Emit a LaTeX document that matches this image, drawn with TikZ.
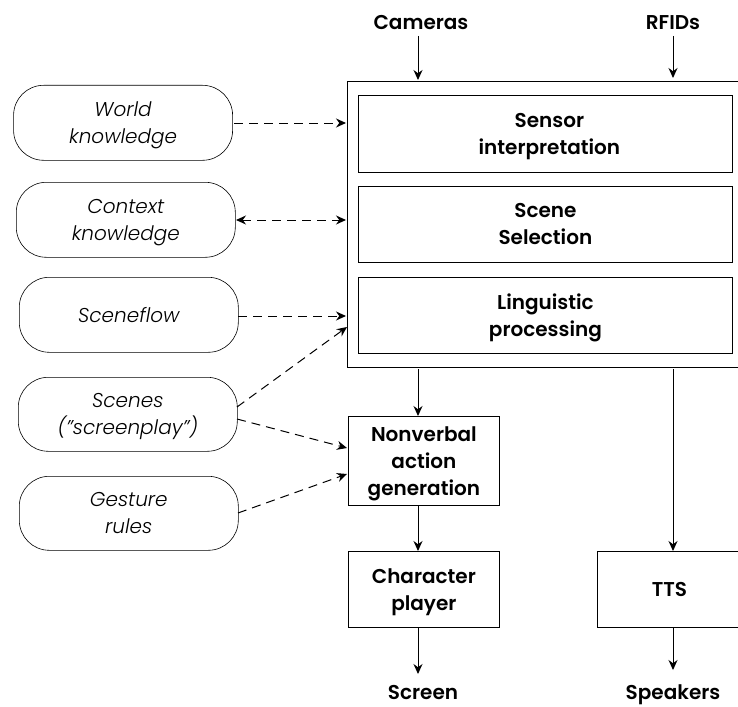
\documentclass[tikz,border=0pt]{standalone}
\usepackage{fontspec}
\setmainfont{Poppins}[BoldFont={Poppins SemiBold},ItalicFont={Poppins Light Italic}]
\usetikzlibrary{arrows.meta}
\tikzset{
 x=1pt,y=-1pt,
 box/.style={draw,line width=0.8pt,rectangle,anchor=north west,inner sep=0pt,align=center,text depth=0pt,font=\fontsize{20}{27}\selectfont\bfseries},
 know/.style={draw,line width=0.6pt,rectangle,rounded corners=30pt,anchor=north west,inner sep=0pt,align=center,text depth=0pt,font=\fontsize{20}{27}\selectfont\itshape},
 lab/.style={inner sep=0pt,font=\fontsize{20}{19}\selectfont\bfseries},
 flow/.style={line width=1pt,-{Stealth[length=10pt,width=9pt]}},
 dflow/.style={flow,dash pattern=on 9pt off 6pt},
}
\begin{document}
\begin{tikzpicture}
\useasboundingbox (0,0) rectangle (738,706);
\node[lab] (cam) at (421,23) {Cameras};
\node[lab] (rfid) at (673,23) {RFIDs};
\node[draw,line width=0.8pt,anchor=north west,minimum width=400pt,minimum height=286pt,inner sep=0pt] (outer) at (347,81) {};
\node[box,minimum width=374pt,minimum height=76pt] (sensor) at (358,95.5) {\hspace*{8pt}Sensor\\\hspace*{8pt}interpretation};
\node[box,minimum width=374pt,minimum height=76pt] (scene) at (358,186) {Scene\\Selection};
\node[box,minimum width=374pt,minimum height=76pt] (ling) at (358,277) {Linguistic\\processing};
\node[know,minimum width=219pt,minimum height=75pt] (world) at (13.3,85) {World\\knowledge};
\node[know,minimum width=219pt,minimum height=75pt] (context) at (16,182) {Context\\knowledge};
\node[know,minimum width=219pt,minimum height=75pt] (flowk) at (19,277) {Sceneflow};
\node[know,minimum width=219pt,minimum height=74pt] (scenes) at (18,377) {Scenes\\(”screenplay”)};
\node[know,minimum width=219pt,minimum height=74pt] (gesture) at (19,476) {Gesture\\rules};
\node[box,minimum width=151pt,minimum height=89pt] (nonverbal) at (348,416) {Nonverbal\\action\\generation};
\node[box,minimum width=151pt,minimum height=76pt] (char) at (348,551) {Character\\player};
\node[box,minimum width=150pt,minimum height=76pt] (tts) at (597,551) {\hspace*{-6pt}TTS};
\node[lab] (screen) at (423,692) {Screen};
\node[lab] (speakers) at (673,695) {Speakers};
\coordinate (a1) at (418,80); \coordinate (a2) at (673,78);
\coordinate (c1) at (418,36); \coordinate (c2) at (673,36);
\draw[flow] (c1) -- (a1);
\draw[flow] (c2) -- (a2);
\coordinate (b1) at (346,123);
\draw[dflow] (234,123) -- (b1);
\coordinate (b2) at (346,220);
\draw[dflow,{Stealth[length=10pt,width=9pt]}-{Stealth[length=10pt,width=9pt]}] (236,220) -- (b2);
\coordinate (b3) at (346,316);
\draw[dflow] (238,316) -- (b3);
\coordinate (b4) at (347,327);
\coordinate (s1) at (237,407); \coordinate (s2) at (237,419);
\draw[dflow] (s1) -- (b4);
\coordinate (n1) at (347,448); \coordinate (n2) at (347,474); \coordinate (g1) at (238,513);
\draw[dflow] (s2) -- (n1);
\draw[dflow] (g1) -- (n2);
\draw[flow] (418,369) -- (418,416);
\draw[flow] (418,505) -- (418,551);
\draw[flow] (418,628) -- (418,674);
\draw[flow] (673,369) -- (673,551);
\draw[flow] (673,628) -- (673,670);
\end{tikzpicture}
\end{document}
